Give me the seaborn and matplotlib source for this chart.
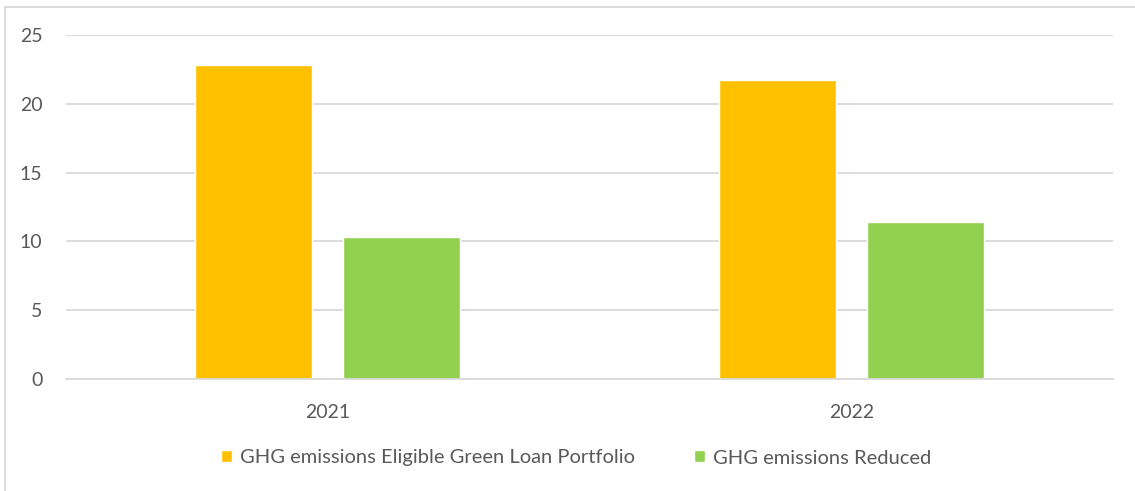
import pandas as pd
import seaborn as sns
import matplotlib.pyplot as plt
from matplotlib.lines import Line2D

# Datos
years = ["2021", "2022"]
eligible = [22.8, 21.7]
reduced = [10.32, 11.4]
series_names = ["GHG emissions Eligible Green Loan Portfolio", "GHG emissions Reduced"]
colors = ["#FFC000", "#92D050"]

df = pd.DataFrame({
    "Year": years * 2,
    "Value": eligible + reduced,
    "Series": [series_names[0]] * 2 + [series_names[1]] * 2,
})

sns.set_theme(style="white")
plt.rcParams['font.family'] = ['Lato', 'DejaVu Sans']

W, H = 1135, 491
fig = plt.figure(figsize=(W / 100, H / 100), dpi=100)
ax = fig.add_axes([66 / W, 1 - 379 / H, (1113 - 66) / W, (379 - 35) / H])

sns.barplot(data=df, x="Year", y="Value", hue="Series", palette=colors,
            width=0.567, gap=0.212, saturation=1, ax=ax, legend=True)

ax.set_ylim(0, 25)
ax.set_xlim(-0.5, 1.5)
ax.set_yticks([0, 5, 10, 15, 20, 25])
ax.yaxis.grid(True, color="#d9d9d9", linewidth=1.3)
ax.set_axisbelow(True)
for s in ["top", "right", "left"]:
    ax.spines[s].set_visible(False)
ax.spines["bottom"].set_color("#d9d9d9")
ax.spines["bottom"].set_linewidth(1.3)
ax.tick_params(axis="y", length=0, pad=17, labelsize=14, labelcolor="#595959")
ax.tick_params(axis="x", length=0, pad=18, labelsize=14, labelcolor="#595959")
ax.set_xlabel("")
ax.set_ylabel("")

# Leyenda abajo
handles, labels = ax.get_legend_handles_labels()
ax.legend_.remove()
fig.legend(handles, labels, loc="center", bbox_to_anchor=(576 / W, 1 - 458 / H),
           ncol=2, frameon=False, fontsize=14.5, labelcolor="#595959",
           handlelength=0.55, handleheight=0.55, handletextpad=0.4, columnspacing=2.9)

# Borde del area del grafico
fig.add_artist(Line2D([5 / W, 1], [1 - 7 / H, 1 - 7 / H], color="#d9d9d9", linewidth=1.3))
fig.add_artist(Line2D([5 / W, 5 / W], [0, 1 - 7 / H], color="#d9d9d9", linewidth=1.3))

fig.savefig("out.png", dpi=100)
